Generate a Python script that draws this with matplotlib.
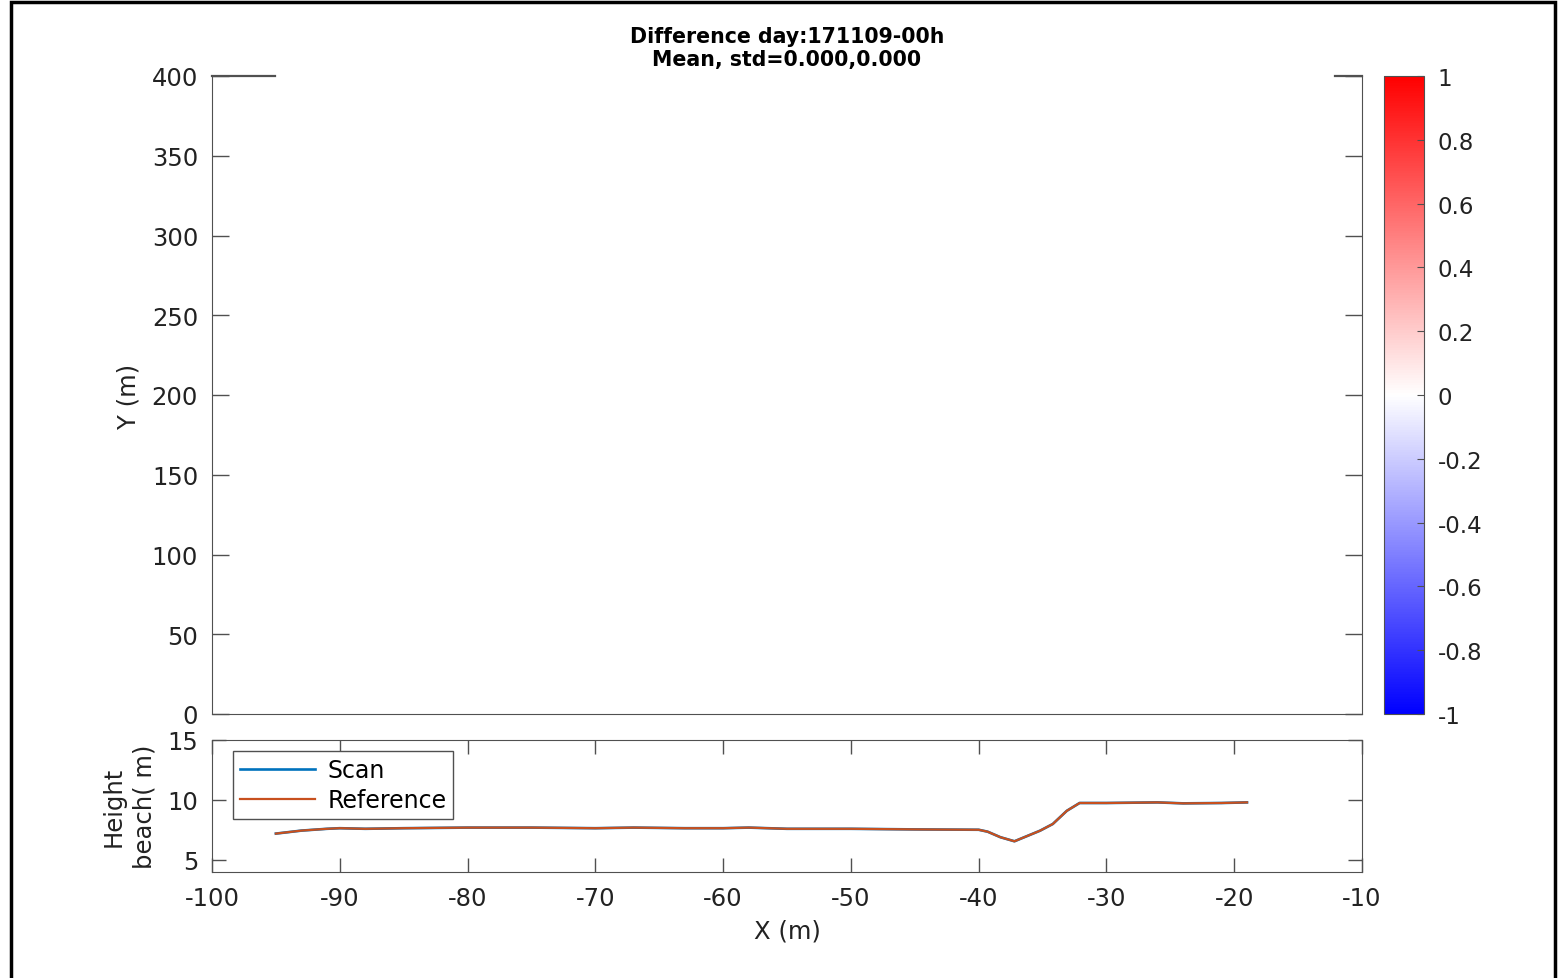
import numpy as np
import matplotlib
matplotlib.use("Agg")
from matplotlib import pyplot as plt
from matplotlib.patches import Rectangle

plt.rcParams['font.family'] = 'DejaVu Sans'
plt.rcParams['axes.unicode_minus'] = False

# beach profile (m), scan and reference are identical here
x_prof = [-95, -93, -91, -90, -88, -85, -80, -75, -70, -67, -63, -60, -58, -55,
          -50, -45, -40, -39.3, -38.3, -37.2, -35.2, -34.2, -33.1, -32.1,
          -30, -26, -24, -21, -19]
h_scan = [7.2, 7.45, 7.6, 7.65, 7.6, 7.65, 7.7, 7.7, 7.65, 7.7, 7.65, 7.65, 7.7, 7.6,
          7.6, 7.55, 7.52, 7.36, 6.9, 6.56, 7.44, 8.0, 9.1, 9.75,
          9.75, 9.8, 9.72, 9.75, 9.8]
h_ref = list(h_scan)

title_txt = 'Difference day:171109-00h\nMean, std=0.000,0.000'
y_ticks = np.arange(0, 401, 50)
x_ticks = np.arange(-100, -9, 10)
h_ticks = [5, 10, 15]
cb_ticks = np.round(np.arange(-1, 1.01, 0.2), 1)
cb_labels = ['1', '0.8', '0.6', '0.4', '0.2', '0', '-0.2', '-0.4', '-0.6', '-0.8', '-1'][::-1]

W, H = 1558, 979
fig = plt.figure(figsize=(W/100, H/100), dpi=100)

axcol = '#505050'
fs = 17.5

def px(l, t, r, b):
    return [l/W, 1-b/H, (r-l)/W, (b-t)/H]

# map axes
ax = fig.add_axes(px(212, 77, 1362, 715))
ax.set_xlim(-100, -10)
ax.set_ylim(0, 400)
ax.set_yticks(y_ticks)
ax.set_xticks([])
ax.tick_params(axis='y', direction='in', right=True, length=12, width=1,
               color=axcol, labelsize=fs, pad=10, labelcolor='#222222')
for s in ax.spines.values():
    s.set_color(axcol)
ax.spines['top'].set_visible(False)
ax.axhline(400, xmin=0, xmax=(275-212)/1150, color=axcol, lw=1.6, clip_on=False)
ax.axhline(400, xmin=(1335-212)/1150, xmax=1, color=axcol, lw=1.6, clip_on=False)
ax.set_ylabel('Y (m)', fontsize=fs, labelpad=8, color='#222222')
ax.set_title(title_txt, fontsize=14.8, fontweight='bold', pad=8, linespacing=1.15)

# colour bar
cax = fig.add_axes(px(1384, 77, 1424, 715))
sm = plt.cm.ScalarMappable(cmap='bwr', norm=plt.Normalize(-1, 1))
cb = fig.colorbar(sm, cax=cax, ticks=cb_ticks)
cb.ax.set_yticklabels(cb_labels)
cb.ax.tick_params(direction='in', length=5, color=axcol, labelsize=fs - 1, pad=10,
                  labelcolor='#222222')
cb.outline.set_edgecolor(axcol)

# beach height
bx = fig.add_axes(px(212, 741, 1362, 873))
bx.plot(x_prof, h_scan, color='#0072BD', lw=1.9, label='Scan')
bx.plot(x_prof, h_ref, color='#C8501E', lw=1.6, label='Reference')
bx.set_xlim(-100, -10)
bx.set_ylim(4, 15)
bx.set_xticks(x_ticks)
bx.set_yticks(h_ticks)
bx.tick_params(direction='in', top=True, right=True, length=10, width=1,
               color=axcol, labelsize=fs, pad=10, labelcolor='#222222')
for s in bx.spines.values():
    s.set_color(axcol)
bx.set_xlabel('X (m)', fontsize=fs, labelpad=6, color='#222222')
bx.set_ylabel('Height\nbeach( m)', fontsize=fs, labelpad=8, linespacing=1.35,
              color='#222222')
leg = bx.legend(loc='upper left', fontsize=fs - 0.5, fancybox=False, framealpha=1,
                edgecolor=axcol, handlelength=3.2, borderpad=0.3,
                labelspacing=0.25, handletextpad=0.5, borderaxespad=0,
                bbox_to_anchor=(0.018, 0.915))
leg.get_frame().set_linewidth(1)

# outer frame of the screenshot
fig.patches.append(Rectangle((11/W, -0.05), (1555-11)/W, 1.05 - 3/H,
                             transform=fig.transFigure, fill=False,
                             edgecolor='black', lw=2.5))

fig.savefig('out.png', dpi=100)
